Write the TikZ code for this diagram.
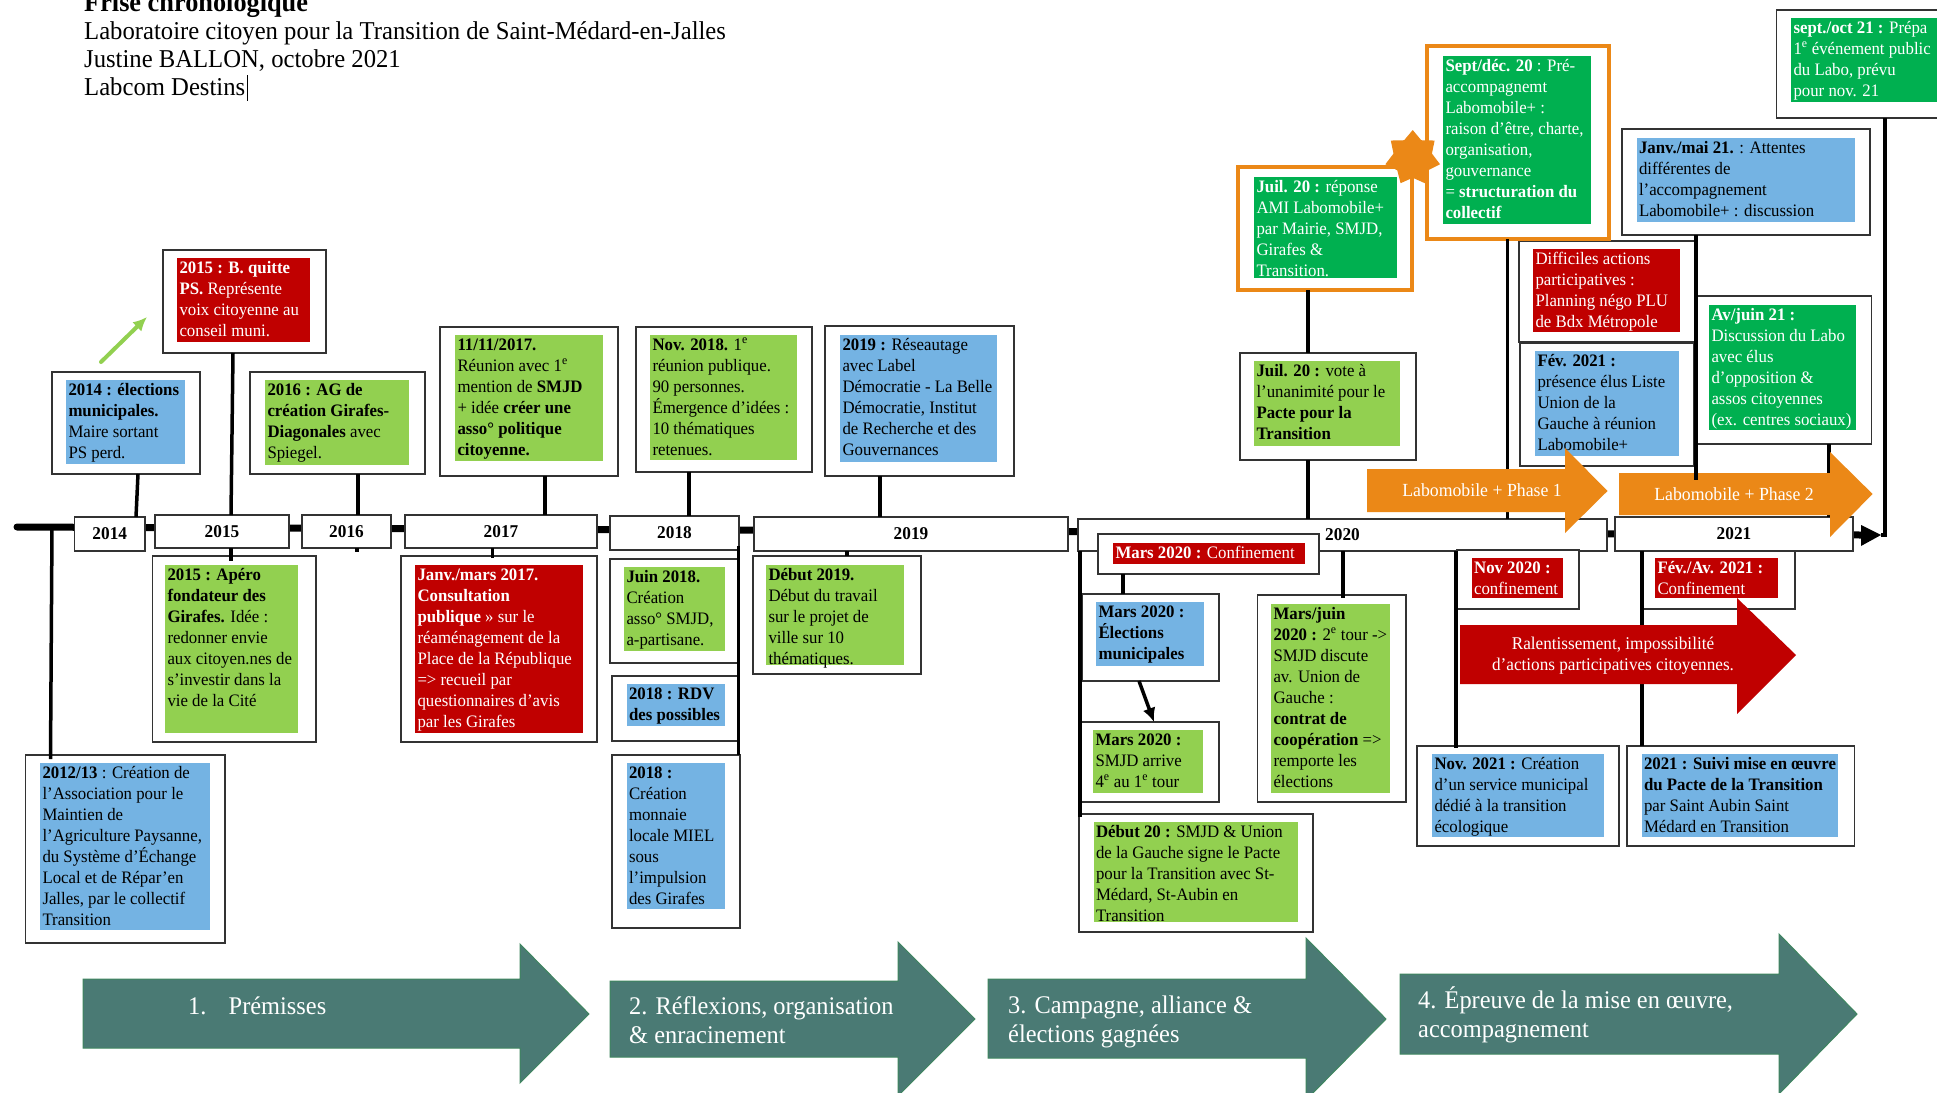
\documentclass[tikz,border=0pt]{standalone}
\usepackage{fontspec}
\setmainfont[FakeStretch=0.96]{Liberation Serif}
\usetikzlibrary{arrows.meta,shapes.geometric}
\definecolor{cblue}{HTML}{74B3E3}
\definecolor{cgreen}{HTML}{92D050}
\definecolor{cred}{HTML}{C00000}
\definecolor{cdark}{HTML}{00B050}
\definecolor{corange}{HTML}{EB8817}
\definecolor{cteal}{HTML}{4A7A74}
\definecolor{cedge}{HTML}{3F8660}
\definecolor{cline}{HTML}{333333}
\tikzset{
  cardbox/.style={draw=cline,fill=white,line width=1.5,anchor=north west,inner sep=0,outer sep=0},
  cardfill/.style={anchor=north west,inner sep=0,outer sep=0},
  cardtext/.style={anchor=north west,inner sep=0,outer sep=0,align=left,font=\fontsize{17.5}{21}\selectfont},
  yearbox/.style={draw=cline,fill=white,line width=1.5,inner sep=0,outer sep=0,font=\fontsize{18}{21}\selectfont\bfseries},
  conn/.style={draw=black,line width=3.5},
  axisline/.style={draw=black,line width=7,line cap=round},
  bigarrow/.style={fill=cteal,draw=cedge,line width=1},
  biglabel/.style={text=white,anchor=base west,inner sep=0,font=\fontsize{25.4}{29}\selectfont,align=left},
  arrowlabel/.style={text=white,inner sep=0,font=\fontsize{18.5}{21}\selectfont,align=center}
}
\def\card#1(#2,#3,#4,#5)(#6,#7,#8,#9){%
  \node[cardbox,minimum width={#4pt-#2pt},minimum height={#5pt-#3pt}] (#1) at (#2,#3) {};
  \def\cardname{#1}\def\cardxa{#6}\def\cardya{#7}\def\cardxb{#8}\def\cardyb{#9}\cardbody}
\newcommand\cardbody[3]{%
  \node[cardfill,fill=#1,minimum width={\cardxb pt-\cardxa pt},minimum height={\cardyb pt-\cardya pt}] (\cardname-f) at (\cardxa,\cardya) {};
  \node[cardtext,text=#2,xshift=2.5pt] (\cardname-t) at (\cardname-f.north west) {\rule{0pt}{15pt}#3};}
\newcommand\yr[5]{\node[yearbox,minimum width={#4pt-#2pt},minimum height={#5pt-#3pt}] (y#1) at ({(#2+#4)/2},{(#3+#5)/2}) {#1};}
\newcommand\sx[1]{\textsuperscript{#1}}
\begin{document}
\begin{tikzpicture}[x=1pt,y=-1pt]
\useasboundingbox (0,0) rectangle (1937,1092);
\clip (0,0) rectangle (1937,1092);
\fill[white] (0,0) rectangle (1937,1092);

% header
\node[anchor=north west,inner sep=0,align=left,font=\fontsize{25.7}{28}\selectfont] (head) at (84,-8)
  {\rule{0pt}{19pt}{\fontsize{27.4}{28}\selectfont\textbf{Frise chronologique}}\\Laboratoire citoyen pour la Transition de Saint-Médard-en-Jalles\\Justine BALLON, octobre 2021\\Labcom Destins};
\coordinate (curA) at (247,75); \coordinate (curB) at (247,101);
\draw[line width=0.8] (curA) -- (curB);

% axis
\coordinate (axisA) at (17,527); \coordinate (axisB) at (1861,535);
\draw[axisline] (axisA) -- (axisB);
\coordinate (tipT) at (1861,525); \coordinate (tipM) at (1881,535); \coordinate (tipB) at (1861,546);
\fill[black] (tipT) -- (tipM) -- (tipB) -- cycle;

% year boxes
\yr{2014}{74.5}{517}{145}{551}
\yr{2015}{155}{515}{289}{548}
\yr{2016}{302}{515}{391}{548}
\yr{2017}{405}{515}{597}{548}
\yr{2018}{610}{516}{739}{550}
\yr{2019}{754}{517}{1068}{551}
\yr{2020}{1078}{519}{1607}{551}
\yr{2021}{1615}{517}{1853}{551}

% cards above the axis
\card{b14}(52,372,200,474)(66,380,185,464){cblue}{black}{\textbf{2014 : élections}\\\textbf{municipales.}\\Maire sortant\\PS perd.}
\card{b15}(163,250,326,353)(177,258,310,342){cred}{white}{\textbf{2015 : B. quitte}\\\textbf{PS.} Représente\\voix citoyenne au\\conseil muni.}
\card{b16}(250,372,425,474)(265,380,409,465){cgreen}{black}{\textbf{2016 : AG de}\\\textbf{création Girafes-}\\\textbf{Diagonales} avec\\Spiegel.}
\card{b17}(440,327,618,476)(455,335,603,461){cgreen}{black}{\textbf{11/11/2017.}\\Réunion avec 1\sx{e}\\mention de \textbf{SMJD}\\+ idée \textbf{créer une}\\\textbf{asso° politique}\\\textbf{citoyenne.}}
\card{b18}(636,327,812,472)(650,335,797,460){cgreen}{black}{\textbf{Nov. 2018.} 1\sx{e}\\réunion publique.\\90 personnes.\\Émergence d’idées :\\10 thématiques\\retenues.}
\card{b19}(825,326,1014,476)(840,335,997,462){cblue}{black}{\textbf{2019 :} Réseautage\\avec Label\\Démocratie - La Belle\\Démocratie, Institut\\de Recherche et des\\Gouvernances}

% cards below the axis
\card{a13}(25.5,755,225,943)(40,763,210,930){cblue}{black}{\textbf{2012/13} : Création de\\l’Association pour le\\Maintien de\\l’Agriculture Paysanne,\\du Système d’Échange\\Local et de Répar’en\\Jalles, par le collectif\\Transition}
\card{a15}(152.5,556,316,742)(165,565,298,733){cgreen}{black}{\textbf{2015 : Apéro}\\\textbf{fondateur des}\\\textbf{Girafes.} Idée :\\redonner envie\\aux citoyen.nes de\\s’investir dans la\\vie de la Cité}
\card{a17}(401,556,597,742)(415,565,583,733){cred}{white}{\textbf{Janv./mars 2017.}\\\textbf{Consultation}\\\textbf{publique} » sur le\\réaménagement de la\\Place de la République\\=> recueil par\\questionnaires d’avis\\par les Girafes}
\card{a18a}(610,559,739,663)(624,567,724.5,651){cgreen}{black}{\textbf{Juin 2018.}\\Création\\asso° SMJD,\\a-partisane.}
\card{a18b}(612,676,738,741)(626.5,684,724.5,726){cblue}{black}{\textbf{2018 : RDV}\\\textbf{des possibles}}
\card{a18c}(612,755,740,928)(626.5,763,724.5,909){cblue}{black}{\textbf{2018 :}\\Création\\monnaie\\locale MIEL\\sous\\l’impulsion\\des Girafes}
\card{a19}(753,556,921,674)(766,565,904,665){cgreen}{black}{\textbf{Début 2019.}\\Début du travail\\sur le projet de\\ville sur 10\\thématiques.}
\card{conf}(1098,534,1319,574)(1113,543,1304.5,564){cred}{white}{\textbf{Mars 2020 :} Confinement}
\card{elec}(1082,594,1219,681)(1096,602,1204,666){cblue}{black}{\textbf{Mars 2020 :}\\\textbf{Élections}\\\textbf{municipales}}
\card{smjd}(1080,722,1219,802)(1093,730,1203,793){cgreen}{black}{\textbf{Mars 2020 :}\\SMJD arrive\\4\sx{e} au 1\sx{e} tour}
\card{pact}(1079,814,1313,932)(1093.5,822,1298,922){cgreen}{black}{\textbf{Début 20 :} SMJD \& Union\\de la Gauche signe le Pacte\\pour la Transition avec St-\\Médard, St-Aubin en\\Transition}
\card{juin}(1257.5,595,1406,802)(1271,604,1390,793){cgreen}{black}{\textbf{Mars/juin}\\\textbf{2020 :} 2\sx{e} tour ->\\SMJD discute\\av. Union de\\Gauche :\\\textbf{contrat de}\\\textbf{coopération} =>\\remporte les\\élections}
\card{nov20}(1457,550,1579,609)(1471.6,558,1563,598){cred}{white}{\textbf{Nov 2020 :}\\confinement}
\card{fev21}(1642.5,551,1795,609)(1655,558,1778,598){cred}{white}{\textbf{Fév./Av. 2021 :}\\Confinement}
\card{nov21}(1417,746,1619,846)(1432,754,1604,837){cblue}{black}{\textbf{Nov. 2021 :} Création\\d’un service municipal\\dédié à la transition\\écologique}
\card{suivi}(1627,746,1854.5,846)(1641.5,754,1838,837){cblue}{black}{\textbf{2021 : Suivi mise en œuvre}\\\textbf{du Pacte de la Transition}\\par Saint Aubin Saint\\Médard en Transition}

% cards upper right
\card{vote}(1240,353,1416,460)(1254,361,1400,446){cgreen}{black}{\textbf{Juil. 20 :} vote à\\l’unanimité pour le\\\textbf{Pacte pour la}\\\textbf{Transition}}
\card{diff}(1519,241,1695.5,342)(1533,249,1680,332){cred}{white}{Difficiles actions\\participatives :\\Planning négo PLU\\de Bdx Métropole}
\card{fevr}(1520,343,1694,466)(1535,351,1679,456){cblue}{black}{\textbf{Fév. 2021 :}\\présence élus Liste\\Union de la\\Gauche à réunion\\Labomobile+}
\card{janv}(1622,129,1870,235)(1636.5,138,1855,222){cblue}{black}{\textbf{Janv./mai 21.} : Attentes\\différentes de\\l’accompagnement\\Labomobile+ : discussion}
\card{avju}(1695.5,296,1871.5,444)(1709,305,1856,430){cdark}{white}{\textbf{Av/juin 21 :}\\Discussion du Labo\\avec élus\\d’opposition \&\\assos citoyennes\\(ex. centres sociaux)}
\card{sept}(1776.5,10,1960,118)(1791,18,1950,102){cdark}{white}{\textbf{sept./oct 21 :} Prépa\\1\sx{e} événement public\\du Labo, prévu\\pour nov. 21}
\begin{scope}
\tikzset{cardbox/.append style={draw=corange,line width=4}}
\card{juil}(1238,167,1412,290)(1254,177,1396.5,278){cdark}{white}{\textbf{Juil. 20 :} réponse\\AMI Labomobile+\\par Mairie, SMJD,\\Girafes \&\\Transition.}
\card{sdec}(1427,46,1609,239)(1443,56,1591,224){cdark}{white}{\textbf{Sept/déc. 20} : Pré-\\accompagnemt\\Labomobile+ :\\raison d’être, charte,\\organisation,\\gouvernance\\= \textbf{structuration du}\\\textbf{collectif}}
\end{scope}
\node[star,star points=7,star point ratio=1.42,fill=corange,minimum size=56,inner sep=0] (burst) at (1412.7,158) {};

% connectors
\foreach \n/\x in {xa/136,xb/138,xc/231,xd/233,xe/358,xf/357,xg/545,xh/492.5,xi/689,xj/880,xk/847,xl/52,xm/50.5,xn/1123,xo/1343,xp/1308,xq/1507.6,xr/1456,xs/1642,xt/1829,xu/1885,xv/1080,xw/738.5,xx/1696,xy/1139,xz/1154}
  \coordinate (\n) at (\x,0);
\draw[conn] (b14.south -| xb) -- (y2014.north -| xa);
\draw[conn] (b15.south -| xd) -- (y2015.north -| xc);
\draw[conn] (y2015.south -| xc) -- ([yshift=-5pt]a15.north -| xc);
\draw[conn] (b16.south -| xe) -- (y2016.north -| xe);
\draw[conn] (y2016.south -| xf) -- ([yshift=-4pt]y2016.south -| xf);
\draw[conn] (b17.south -| xg) -- (y2017.north -| xg);
\draw[conn] (y2017.south -| xh) -- ([yshift=-2pt]a17.north -| xh);
\draw[conn] (b18.south -| xi) -- (y2018.north -| xi);
\draw[conn] (b19.south -| xj) -- (y2019.north -| xj);
\draw[conn] (y2019.south -| xk) -- (a19.north -| xk);
\coordinate (axis13) at (52,527);
\draw[conn] (axis13) -- ([yshift=-4pt]a13.north -| xm);
\coordinate (w18) at (738.5,546);
\draw[conn] (w18) -- (a18c.north -| xw);
\draw[conn] (y2020.south -| xv) -- ([yshift=-3pt]pact.north -| xv);
\draw[conn] (conf.south -| xn) -- (elec.north -| xn);
\draw[conn] (y2020.south -| xo) -- ([yshift=-3pt]juin.north -| xo);
\draw[conn,-{Latex[length=14pt,width=13pt]}] (elec.south -| xy) -- (smjd.north -| xz);
\draw[conn] (juil.south -| xp) -- (vote.north -| xp);
\draw[conn] (vote.south -| xp) -- (y2020.north -| xp);
\draw[conn] (sdec.south -| xq) -- (y2020.north -| xq);
\draw[conn] (avju.south -| xt) -- (y2021.north -| xt);
\draw[conn] (y2020.south -| xr) -- ([yshift=-2pt]nov21.north -| xr);
\draw[conn] (y2021.south -| xs) -- (suivi.north -| xs);
\draw[conn] (sept.south -| xu) -- (tipM -| xu) -- (tipM);

% green rising arrow
\coordinate (riseA) at (101,362); \coordinate (riseB) at (147,317);
\draw[draw=cgreen,line width=4,line cap=round,-{Latex[length=14pt,width=13pt]}] (riseA) -- (riseB);

% orange and red arrows
\fill[corange] (1367,469) -- (1565,469) -- (1565,448) -- (1607.5,491) -- (1565,533) -- (1565,512) -- (1367,512) -- cycle;
\fill[corange] (1619,473) -- (1830,473) -- (1830,452) -- (1872.6,494) -- (1830,537) -- (1830,515) -- (1619,515) -- cycle;
\fill[cred] (1460,625) -- (1737,625) -- (1737,598) -- (1796,655) -- (1737,714) -- (1737,684) -- (1460,684) -- cycle;
\node[arrowlabel] (ph1) at (1482,490) {Labomobile + Phase 1};
\node[arrowlabel] (ph2) at (1734,494) {Labomobile + Phase 2};
\node[arrowlabel,font=\fontsize{17.9}{21}\selectfont] (rale) at (1613,656) {Ralentissement, impossibilité\\d’actions participatives citoyennes.};
\coordinate (xxEnd) at (1696,480);
\draw[conn] (janv.south -| xx) -- (xxEnd);

% bottom arrows
\draw[bigarrow] (83,979) -- (520,979) -- (520,944) -- (589,1014) -- (520,1083) -- (520,1048) -- (83,1048) -- cycle;
\draw[bigarrow] (610,981) -- (898,981) -- (898,942) -- (975,1019) -- (898,1096) -- (898,1057) -- (610,1057) -- cycle;
\draw[bigarrow] (988,979) -- (1306,979) -- (1306,938) -- (1386,1019) -- (1306,1100) -- (1306,1058) -- (988,1058) -- cycle;
\draw[bigarrow] (1400,974) -- (1779,974) -- (1779,934) -- (1857,1014) -- (1779,1094) -- (1779,1054) -- (1400,1054) -- cycle;
\node[biglabel] (p1n) at (188,1014) {1.};
\node[biglabel] (p1) at (228.5,1014) {Prémisses};
\node[biglabel] (p2) at (629,1043) {2. Réflexions, organisation\\\& enracinement};
\node[biglabel] (p3) at (1008,1042) {3. Campagne, alliance \&\\élections gagnées};
\node[biglabel] (p4) at (1418,1037) {4. Épreuve de la mise en œuvre,\\accompagnement};
\end{tikzpicture}
\end{document}
